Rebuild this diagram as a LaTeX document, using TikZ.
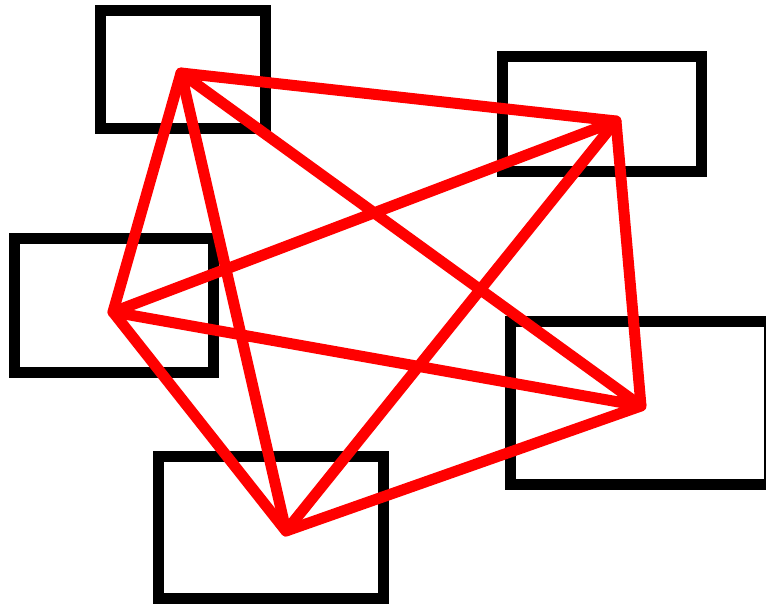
\documentclass[tikz,border=0pt]{standalone}
\begin{document}
\begin{tikzpicture}[x=1pt,y=-1pt,
  box/.style={draw=black,line width=11pt,rectangle,inner sep=0pt,fill=none},
  edge/.style={draw=red,line width=11pt,line join=round,line cap=round}]
\useasboundingbox (0,0) rectangle (766,604);
\fill[white] (0,0) rectangle (766,604);
\node[box,minimum width=165pt,minimum height=117.5pt] (b1) at (183,69.75) {};
\node[box,minimum width=199pt,minimum height=115pt] (b2) at (601.5,114.5) {};
\node[box,minimum width=199pt,minimum height=134pt] (b3) at (113.5,305.5) {};
\node[box,minimum width=258.5pt,minimum height=163pt] (b4) at (639.75,402.5) {};
\node[box,minimum width=225.5pt,minimum height=142pt] (b5) at (270.75,527) {};
\coordinate (A) at (181,73);
\coordinate (B) at (616,121);
\coordinate (C) at (113,312);
\coordinate (D) at (641,406);
\coordinate (E) at (286,531);
\draw[edge] (A) -- (B) -- (D) -- (E) -- (C) -- cycle;
\draw[edge] (A) -- (D) -- (C) -- (B) -- (E) -- cycle;
\end{tikzpicture}
\end{document}
